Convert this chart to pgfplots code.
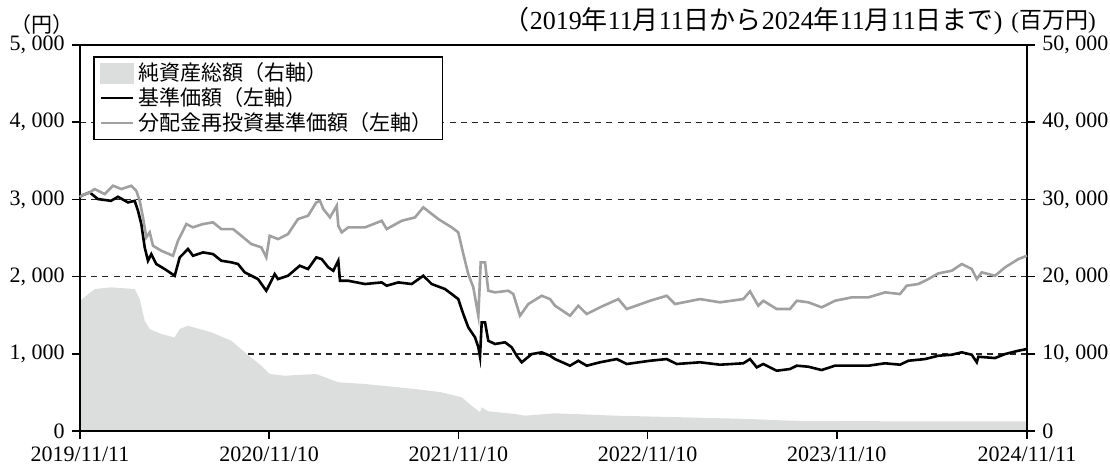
\documentclass[border=0pt]{standalone}
\usepackage{fontspec}
\setmainfont{Liberation Serif}
\newfontfamily\jp{Noto Sans CJK JP}
\usepackage{pgfplots}
\pgfplotsset{compat=1.18}
\definecolor{areagray}{HTML}{DCDDDD}
\definecolor{linegray}{HTML}{A0A0A0}
\pgfplotsset{
  common/.style={
    at={(0,0)}, anchor=south west,
    width=473.5pt, height=193pt, scale only axis,
    xmin=0, xmax=1827,
    tick align=outside,
    major tick length=4pt,
    tick style={black, line width=0.8pt},
    axis line style={line width=0.9pt},
    tick label style={font=\fontsize{11}{12}\selectfont},
    scaled ticks=false,
    /pgf/number format/assume math mode=true,
  }
}
\begin{document}
\fontsize{10.5}{12}\selectfont
\begin{tikzpicture}
\useasboundingbox (-40pt,-18.5pt) rectangle (515pt,215.5pt);
% right axis: net assets (million yen)
\begin{axis}[common,
  ymin=0, ymax=50000,
  axis y line*=right, axis x line=none,
  ytick={0,10000,20000,30000,40000,50000},
  yticklabels={0,{10, 000},{20, 000},{30, 000},{40, 000},{50, 000}},
  ymajorgrids,
  grid style={black!85, line width=0.7pt, dash pattern=on 3pt off 2.6pt},
]
\addplot[fill=areagray, draw=none] coordinates {
(0,16870) (28.4,18390) (60.2,18610) (105.5,18390) (115.2,17094) (124.8,14284)
(134.5,13209) (156.9,12562) (182.7,12130) (192.4,13209) (208.4,13637) (253.4,12782)
(291.9,11694) (317.8,10192) (349.8,8456) (366.0,7382) (394.9,7161) (455.9,7382)
(498.3,6307) (549.9,6087) (646.3,5439) (697.7,5007) (736.3,4364) (755.6,3276)
(771.7,2422) (775.0,3069) (787.7,2551) (839.3,2201) (858.6,1981) (916.4,2292)
(1035.5,1981) (1164.1,1774) (1292.6,1554) (1369.8,1334) (1562.7,1256) (1827,1256)
} \closedcycle;
\end{axis}
% left axis: NAV lines
\begin{axis}[common,
  ymin=0, ymax=5000,
  clip=false,
  xtick pos=bottom, ytick pos=left,
  xtick={0,365,730,1095,1460,1827},
  xticklabels={2019/11/11,2020/11/10,2021/11/10,2022/11/10,2023/11/10,2024/11/11},
  ytick={0,1000,2000,3000,4000,5000},
  yticklabels={0,{1, 000},{2, 000},{3, 000},{4, 000},{5, 000}},
  legend style={at={(0,1)}, anchor=north west, xshift=6.5pt, yshift=-5.5pt,
    draw=black, line width=0.8pt, font=\jp\fontsize{10.5}{12}\selectfont,
    inner xsep=3pt, inner ysep=1pt, row sep=-2.2pt},
  legend cell align=left,
]
\addlegendimage{legend image code/.code={\fill[areagray] (0pt,-5pt) rectangle (16pt,5pt);}}
\addlegendentry{純資産総額（右軸）}
\addplot[black, line width=1.3pt, legend image code/.code={\draw[black, line width=1.3pt] (0pt,0pt) -- (16pt,0pt);}] coordinates {
(0,3030) (2.5,3047) (18.7,3091) (34.7,3004) (59.8,2982) (73.3,3034) (92.6,2961)
(105.5,2982) (111.9,2853) (118.3,2681) (124.8,2379) (131.2,2206) (137.6,2292)
(147.2,2163) (163.4,2098) (182.7,2011) (192.4,2249) (208.4,2357) (218.0,2270)
(237.3,2314) (256.6,2292) (272.6,2206) (291.9,2185) (304.8,2163) (317.8,2055)
(343.4,1968) (359.4,1817) (366.0,1904) (375.6,2033) (382.0,1968) (401.3,2011)
(423.9,2141) (439.9,2098) (455.9,2249) (466.3,2227) (479.0,2120) (488.7,2076)
(498.3,2206) (501.6,1946) (517.6,1946) (549.9,1904) (582.1,1925) (591.7,1882)
(614.1,1925) (639.9,1904) (662.3,2011) (678.5,1904) (704.2,1839) (717.1,1774)
(729.8,1709) (739.5,1515) (749.1,1343) (762.1,1213) (768.5,1084) (771.7,962)
(775.0,1408) (781.4,1408) (787.7,1169) (800.7,1127) (820.0,1149) (832.9,1084)
(842.5,975) (852.2,890) (871.5,997) (890.8,1019) (906.8,975) (916.4,932)
(945.4,846) (961.4,910) (977.6,846) (1003.2,890) (1035.5,932) (1054.8,868)
(1099.7,910) (1131.9,932) (1151.2,868) (1196.2,890) (1234.8,859) (1279.7,877)
(1292.6,932) (1305.6,825) (1318.3,868) (1344.2,781) (1369.8,803) (1382.8,846)
(1405.1,833) (1430.9,790) (1456.6,846) (1488.8,846) (1520.9,846) (1553.1,877)
(1582.0,859) (1598.1,910) (1630.3,932) (1655.9,975) (1681.8,988) (1701.1,1019)
(1720.4,988) (1730.1,890) (1733.2,962) (1765.3,945) (1784.6,997) (1810.3,1040)
(1827,1062)
};
\addlegendentry{基準価額（左軸）}
\addplot[linegray, line width=1.3pt, legend image code/.code={\draw[linegray, line width=1.3pt] (0pt,0pt) -- (16pt,0pt);}] coordinates {
(0,3030) (2.5,3047) (18.7,3091) (28.4,3134) (47.7,3069) (63.7,3177) (79.7,3134)
(99.0,3177) (108.6,3112) (115.2,2982) (121.5,2767) (127.9,2508) (134.5,2573)
(140.8,2400) (156.9,2335) (179.4,2270) (189.1,2465) (205.1,2681) (218.0,2638)
(237.3,2681) (256.6,2703) (272.6,2616) (295.2,2616) (311.2,2529) (330.5,2422)
(349.8,2379) (359.4,2249) (366.0,2529) (382.0,2486) (401.3,2551) (420.6,2746)
(439.9,2788) (455.9,2961) (463.0,2982) (469.4,2875) (482.3,2767) (495.3,2918)
(498.3,2659) (504.9,2573) (517.6,2638) (549.9,2638) (582.1,2723) (591.7,2616)
(620.6,2723) (646.3,2767) (662.3,2897) (691.3,2745) (717.1,2638) (729.8,2573)
(739.5,2292) (749.1,2033) (758.8,1861) (768.5,1493) (773.1,2185) (781.4,2185)
(787.7,1817) (800.7,1796) (826.3,1817) (836.0,1774) (848.9,1493) (864.9,1645)
(890.8,1752) (906.8,1709) (916.4,1623) (945.4,1493) (961.4,1623) (977.6,1515)
(1003.2,1602) (1038.6,1709) (1054.8,1580) (1099.7,1687) (1131.9,1752) (1148.0,1645)
(1196.2,1709) (1234.8,1667) (1279.7,1709) (1292.6,1809) (1308.6,1623) (1318.3,1687)
(1344.2,1580) (1369.8,1580) (1382.8,1687) (1405.1,1667) (1430.9,1602) (1456.6,1687)
(1488.8,1731) (1520.9,1731) (1553.1,1796) (1582.0,1774) (1594.9,1882) (1617.3,1904)
(1636.6,1968) (1655.9,2042) (1681.8,2076) (1701.1,2163) (1720.4,2098) (1730.1,1968)
(1739.7,2055) (1765.3,2011) (1784.6,2120) (1810.3,2227) (1827,2270)
};
\addlegendentry{分配金再投資基準価額（左軸）}
\node[font=\jp\fontsize{10.5}{12}\selectfont, xshift=-19pt, yshift=10pt] at (rel axis cs:0,1) {（円）};
\node[anchor=east, inner sep=0pt, xshift=-12pt, yshift=12pt, font=\fontsize{13}{14}\selectfont] at (rel axis cs:1,1)
  {{\jp （}2019{\jp 年}11{\jp 月}11{\jp 日から}2024{\jp 年}11{\jp 月}11{\jp 日まで})};
\node[anchor=west, inner sep=0pt, xshift=-8pt, yshift=11.5pt, font=\fontsize{11.5}{12}\selectfont] at (rel axis cs:1,1) {({\jp 百万円})};
\end{axis}
\end{tikzpicture}
\end{document}
